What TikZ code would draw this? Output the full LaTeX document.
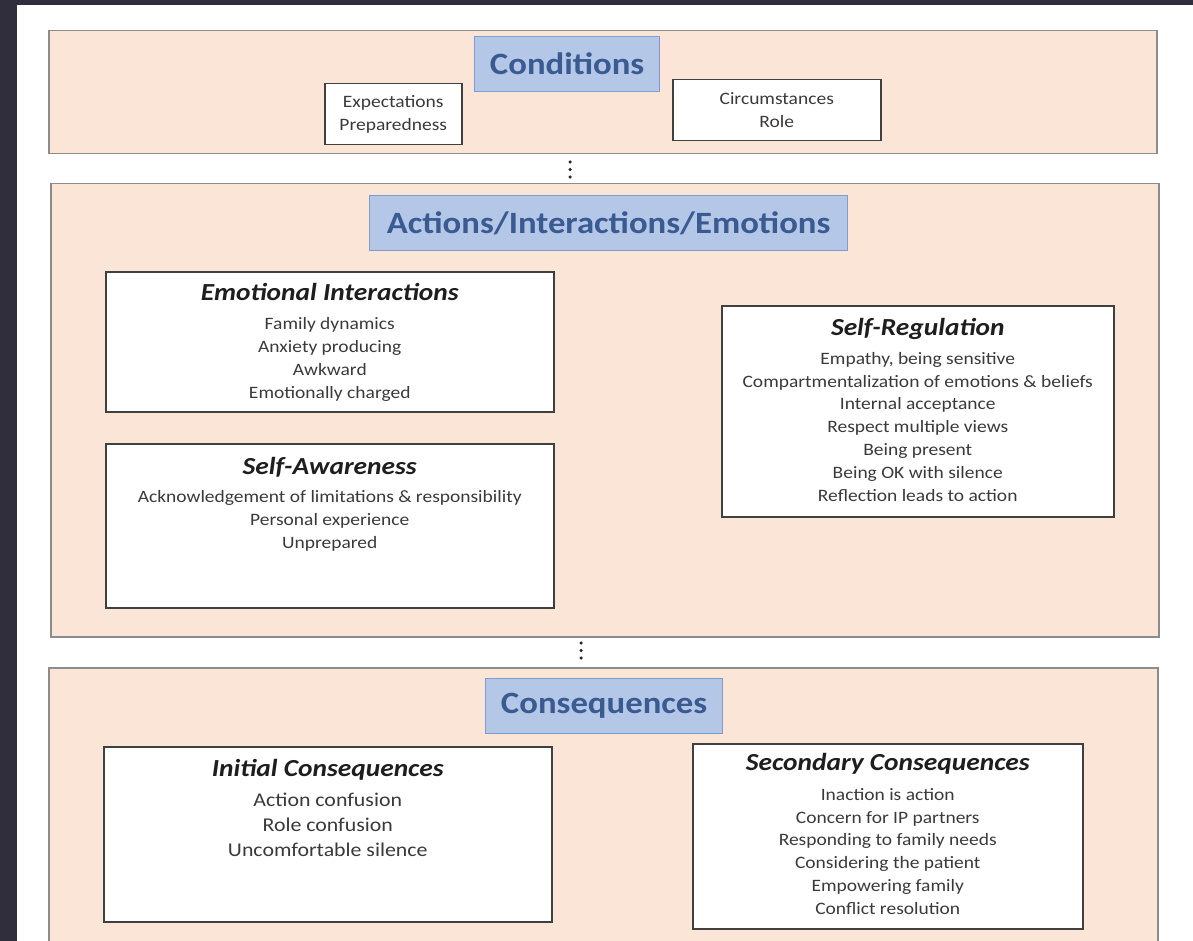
\documentclass[tikz,border=0pt]{standalone}
\usepackage{fontspec}
\setmainfont{Carlito}[FakeStretch=1.12]
\definecolor{darkbg}{HTML}{302E3D}
\definecolor{peach}{HTML}{FBE5D6}
\definecolor{outerline}{HTML}{8C8C8C}
\definecolor{titlefill}{HTML}{B4C7E7}
\definecolor{titleline}{HTML}{7F9CCF}
\definecolor{titletext}{HTML}{3A5A92}
\definecolor{boxline}{HTML}{404040}
\definecolor{bodytext}{HTML}{3A3A3A}
\definecolor{headtext}{HTML}{1E1E1E}
\tikzset{
  outerbox/.style={draw=outerline, fill=peach, line width=1.5pt, inner sep=0pt, anchor=north west},
  titlebox/.style={draw=titleline, fill=titlefill, line width=1.2pt, inner sep=0pt, anchor=north west,
    text=titletext, font=\fontsize{31}{37}\selectfont\bfseries},
  itembox/.style={draw=boxline, fill=white, line width=1.5pt, inner sep=0pt, anchor=north west},
  smallbox/.style={itembox, align=center, text=bodytext, font=\fontsize{17.4}{23}\selectfont},
  headtxt/.style={anchor=base, inner sep=0pt, text=headtext, font=\fontsize{24.5}{29}\selectfont\bfseries\itshape},
  bodytxt/.style={anchor=north, inner sep=0pt, align=center, text=bodytext, font=\fontsize{17.4}{23}\selectfont},
  dotline/.style={line width=3.5pt, line cap=round, dash pattern=on 0pt off 7.5pt, draw=black!85}
}
\begin{document}
\begin{tikzpicture}[x=1pt, y=-1pt]
\useasboundingbox (0,0) rectangle (1193,941);
\clip (0,0) rectangle (1193,941);
\fill[white] (0,0) rectangle (1193,941);
\fill[darkbg] (0,0) rectangle (17,941);
\fill[darkbg] (0,0) rectangle (1193,5);

% Conditions
\node[outerbox, minimum width=1108pt, minimum height=123pt] (cond) at (48,30) {};
\node[titlebox, minimum width=185pt, minimum height=55pt] (condtitle) at (474,36) {Conditions};
\node[smallbox, minimum width=137pt, minimum height=61pt] (expect) at (324,83) {Expectations\\Preparedness};
\node[smallbox, minimum width=208pt, minimum height=61pt] (circ) at (672,79) {Circumstances\\Role};

% Actions
\node[outerbox, minimum width=1108pt, minimum height=453pt] (act) at (50,183) {};
\node[titlebox, minimum width=478pt, minimum height=55pt] (acttitle) at (369,195) {Actions/Interactions/Emotions};
\node[itembox, minimum width=448pt, minimum height=140pt] (emo) at (105,271) {};
\node[headtxt] (emoh) at ([yshift=-29pt]emo.north) {Emotional Interactions};
\node[bodytxt] (emob) at ([yshift=-46.5pt]emo.north) {Family dynamics\\Anxiety producing\\Awkward\\Emotionally charged};
\node[itembox, minimum width=448pt, minimum height=164pt] (aware) at (105,443) {};
\node[headtxt] (awareh) at ([yshift=-31pt]aware.north) {Self-Awareness};
\node[bodytxt] (awareb) at ([yshift=-47.5pt]aware.north) {Acknowledgement of limitations \& responsibility\\Personal experience\\Unprepared};
\node[itembox, minimum width=392pt, minimum height=211pt] (reg) at (721,305) {};
\node[headtxt] (regh) at ([yshift=-30.5pt]reg.north) {Self-Regulation};
\node[bodytxt, font=\fontsize{17.4}{22.8}\selectfont] (regb) at ([yshift=-47pt]reg.north) {Empathy, being sensitive\\Compartmentalization of emotions \& beliefs\\Internal acceptance\\Respect multiple views\\Being present\\Being OK with silence\\Reflection leads to action};

% Consequences
\node[outerbox, minimum width=1109pt, minimum height=300pt] (cons) at (48,667) {};
\node[titlebox, minimum width=237pt, minimum height=55pt] (constitle) at (485,678) {Consequences};
\node[itembox, minimum width=448pt, minimum height=175pt] (init) at (103,746) {};
\node[headtxt] (inith) at ([yshift=-30pt]init.north) {Initial Consequences};
\node[bodytxt, font=\fontsize{19.5}{25}\selectfont] (initb) at ([yshift=-46.5pt]init.north) {Action confusion\\Role confusion\\Uncomfortable silence};
\node[itembox, minimum width=390pt, minimum height=185pt] (sec) at (692,743) {};
\node[headtxt] (sech) at ([yshift=-27pt]sec.north) {Secondary Consequences};
\node[bodytxt, font=\fontsize{17.4}{22.8}\selectfont] (secb) at ([yshift=-45pt]sec.north) {Inaction is action\\Concern for IP partners\\Responding to family needs\\Considering the patient\\Empowering family\\Conflict resolution};

% dotted links
\coordinate (d1a) at (570,162);
\coordinate (d1b) at (570,178);
\draw[dotline] (d1a) -- (d1b);
\coordinate (d2a) at (581,643);
\coordinate (d2b) at (581,659);
\draw[dotline] (d2a) -- (d2b);
\end{tikzpicture}
\end{document}
